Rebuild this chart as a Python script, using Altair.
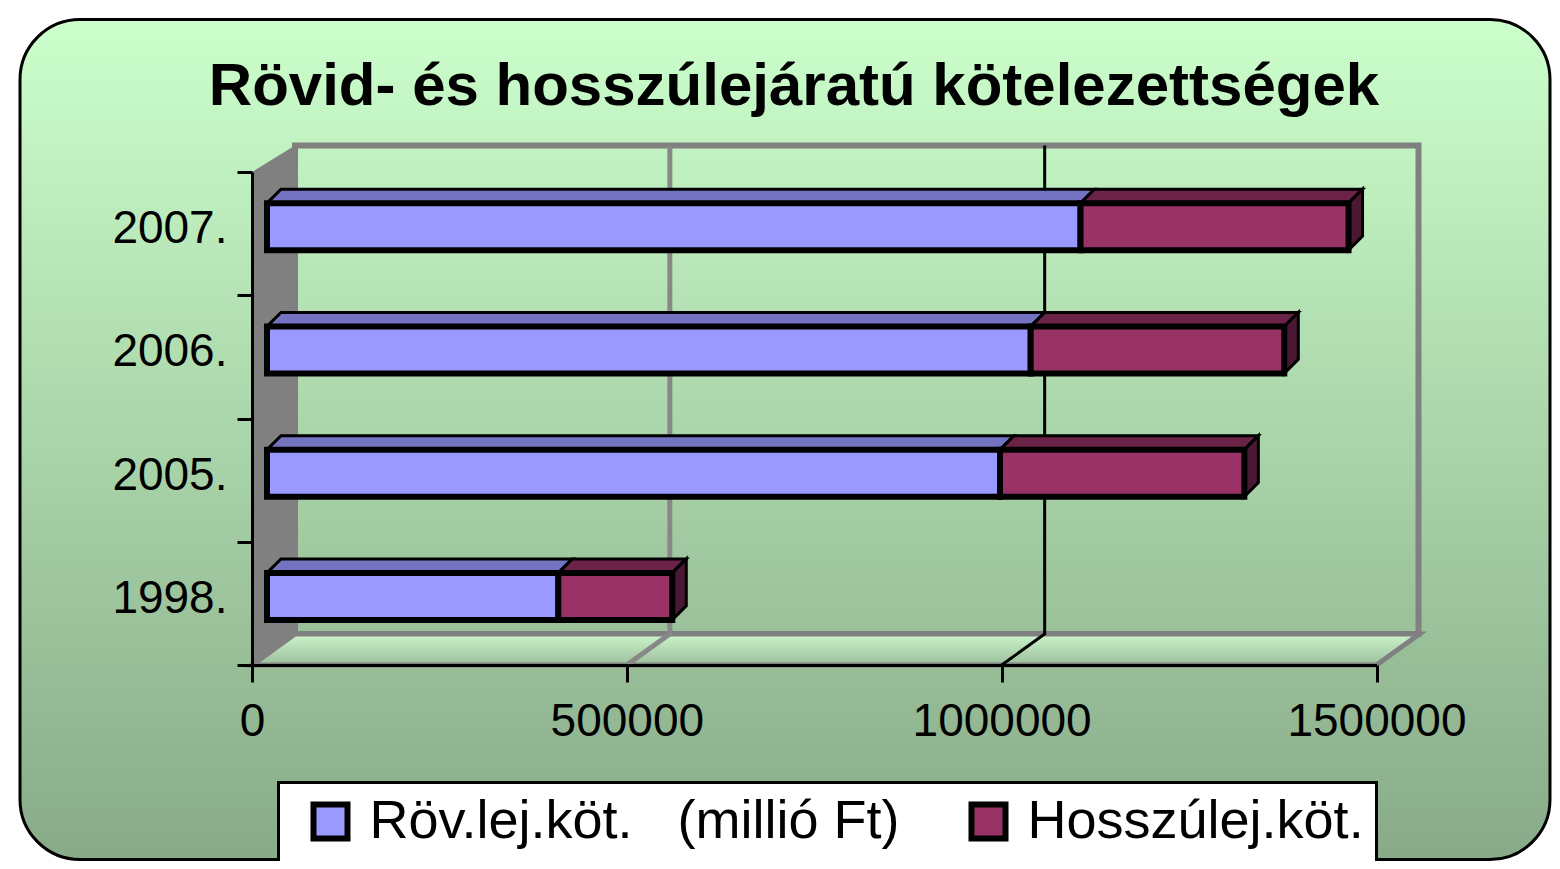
import altair as alt
import pandas as pd

# ---------------- data ----------------
years = ['1998.', '2005.', '2006.', '2007.']
short_term = [388600, 977800, 1018700, 1085200]
long_term = [152000, 325900, 338300, 357500]
series = ['Röv.lej.köt.\u00a0\u00a0\u00a0(millió Ft)', 'Hosszúlej.köt.']
x_ticks = [0, 500000, 1000000, 1500000]
chart_title = 'Rövid- és hosszúlejáratú kötelezettségek'

front_colors = ['#9999FF', '#993366']
top_colors = ['#7373C2', '#6B2347']
side_color = '#4A1832'

# ---------------- geometry (pixels) ----------------
W, H = 1124.5, 493
XMAX = x_ticks[-1]
NCAT = len(years)
PXX = W / XMAX          # px per value unit
BAND = H / NCAT         # px per category band
BAR_SHIFT = 15          # bars sit slightly back from the front plane
BAR_RAISE = 7
BAR_HALF = 23.5
DEPTH = 14              # 3D depth of the bars
WALL_DX, WALL_DYB, WALL_DYT = 43, 31, 26.5

dx = DEPTH / PXX
dy = DEPTH / BAND
wdx = WALL_DX / PXX
wdyb = WALL_DYB / BAND
wdyt = WALL_DYT / BAND

front_rows, top_rows, side_rows = [], [], []
for i, yr in enumerate(years):
    c = i + 0.5 + BAR_RAISE / BAND
    lo, hi = c - BAR_HALF / BAND, c + BAR_HALF / BAND
    segs = [(series[0], 0, short_term[i]),
            (series[1], short_term[i], short_term[i] + long_term[i])]
    for k, (s, a, b) in enumerate(segs):
        front_rows.append(dict(year=yr, series=s, x0=a, x1=b, lo=lo, hi=hi))
        fid = f'{yr}-{k}'
        pts = [(a, hi, hi), (a + dx, hi + dy, hi), (b, hi + dy, hi), (b + dx, hi + dy, hi + dy)]
        for xx, t, bt in pts:
            top_rows.append(dict(face=fid, k=k, x=xx, top=t, bot=bt))
        if k == len(segs) - 1:
            side_rows.append(dict(face=yr, x=b, top=hi, bot=lo))
            side_rows.append(dict(face=yr, x=b + dx, top=hi + dy, bot=lo + dy))

front_df = pd.DataFrame(front_rows)
top_df = pd.DataFrame(top_rows)
side_df = pd.DataFrame(side_rows)

wall_df = pd.DataFrame({'x': [0, wdx], 'top': [NCAT, NCAT + wdyt], 'bot': [0, wdyb]})
floor_df = pd.DataFrame({'x': [0, wdx, XMAX, XMAX + wdx],
                         'top': [0, wdyb, wdyb, wdyb],
                         'bot': [0, 0, 0, wdyb]})
back_df = pd.DataFrame({'x0': [0], 'x1': [XMAX], 'y0': [0], 'y1': [NCAT]})
grid_rows = []
for v in x_ticks[1:-1]:
    for p, (xx, yy) in enumerate([(v, 0), (v + wdx, wdyb), (v + wdx, NCAT + wdyt)]):
        grid_rows.append(dict(v=v, pt=p, x=xx, y=yy))
grid_df = pd.DataFrame(grid_rows)
one = pd.DataFrame({'a': [0]})

FONT = 'Liberation Sans'
xs = alt.Scale(domain=[0, XMAX], nice=False, zero=False)
ys = alt.Scale(domain=[0, NCAT], nice=False, zero=False)

cat_arr = '[' + ','.join(f"'{y}'" for y in years) + ']'
y_axis = alt.Axis(
    values=[k / 2 for k in range(2 * NCAT + 1)],
    labelExpr=f"datum.value % 1 == 0 ? '' : {cat_arr}[floor(datum.value)]",
    title=None, grid=False, domainColor='black', domainWidth=3,
    tickColor='black', tickWidth=3, tickSize=15,
    tickOpacity={'condition': {'test': 'datum.value % 1 == 0', 'value': 1}, 'value': 0},
    labelFontSize=46, labelFont=FONT, labelColor='black', labelPadding=10,
    labelOffset=-5, labelOverlap=False, labelFlush=False, zindex=1)
x_axis = alt.Axis(
    values=x_ticks, format='d', title=None, grid=False,
    domainColor='black', domainWidth=3, tickColor='black', tickWidth=3, tickSize=17,
    labelFontSize=46, labelFont=FONT, labelColor='black', labelPadding=17,
    labelFlush=False, labelOverlap=False, zindex=1)


def X(f):
    return alt.X(f, scale=xs, axis=x_axis)


def Y(f):
    return alt.Y(f, scale=ys, axis=y_axis, stack=None)


# ---------------- layers ----------------
bg_grad = alt.LinearGradient(
    gradient='linear',
    stops=[alt.GradientStop(color='#CCFFCC', offset=0),
           alt.GradientStop(color='#88AA88', offset=1)],
    x1=0, x2=0, y1=0, y2=1)
bg = alt.Chart(one).mark_rect(fill=bg_grad, stroke='black', strokeWidth=3, cornerRadius=60).encode(
    x=alt.value(-232), x2=alt.value(1298), y=alt.value(-152.5), y2=alt.value(687.5))

title_layer = alt.Chart(one).mark_text(
    text=chart_title, font=FONT, fontSize=60, fontWeight='bold', color='black',
    align='center', baseline='alphabetic').encode(x=alt.value(542), y=alt.value(-67))

back_wall = alt.Chart(back_df).mark_rect(
    fill='transparent', stroke='#808080', strokeWidth=6,
    xOffset=WALL_DX, x2Offset=WALL_DX - 1, yOffset=-WALL_DYB, y2Offset=-WALL_DYT).encode(
    x=X('x0:Q'), x2='x1:Q', y=Y('y0:Q'), y2='y1:Q')

left_wall = alt.Chart(wall_df).mark_area(orient='vertical', fill='#808080').encode(
    x=X('x:Q'), y=Y('top:Q'), y2='bot:Q')

floor_grad = alt.LinearGradient(
    gradient='linear',
    stops=[alt.GradientStop(color='#CCF6CC', offset=0),
           alt.GradientStop(color='#9CBE9C', offset=1)],
    x1=0, x2=0, y1=0, y2=1)
floor = alt.Chart(floor_df).mark_area(orient='vertical', fill=floor_grad, stroke='#808080',
                                      strokeWidth=5).encode(
    x=X('x:Q'), y=Y('top:Q'), y2='bot:Q')

grid = alt.Chart(grid_df).mark_line().encode(
    x=X('x:Q'), y=Y('y:Q'),
    detail='v:N', order='pt:Q',
    color=alt.condition(alt.datum.v == x_ticks[1], alt.value('#888888'), alt.value('black')),
    strokeWidth=alt.condition(alt.datum.v == x_ticks[1], alt.value(5), alt.value(3)))

top_layers = [
    alt.Chart(top_df).transform_filter(alt.datum.k == k).mark_area(
        orient='vertical', fill=top_colors[k], stroke='black', strokeWidth=3,
        xOffset=BAR_SHIFT).encode(
        x=X('x:Q'), y=Y('top:Q'), y2='bot:Q', detail='face:N')
    for k in range(len(series))
]

side = alt.Chart(side_df).mark_area(orient='vertical', fill=side_color, stroke='black',
                                    strokeWidth=3, xOffset=BAR_SHIFT).encode(
    x=X('x:Q'), y=Y('top:Q'), y2='bot:Q', detail='face:N')

legend = alt.Legend(
    title=None, orient='none', legendX=26.5, legendY=610.5, direction='horizontal',
    fillColor='white', strokeColor='black', padding=12,
    symbolType='square', symbolSize=1156, symbolStrokeWidth=6, symbolStrokeColor='black',
    symbolOffset=13, labelFontSize=54, labelFont=FONT, labelColor='black',
    labelOffset=12, columnPadding=48, labelLimit=0, zindex=1)

front = alt.Chart(front_df).mark_bar(stroke='black', strokeWidth=6,
                                     xOffset=BAR_SHIFT, x2Offset=BAR_SHIFT).encode(
    x=X('x0:Q'), x2='x1:Q', y=Y('lo:Q'), y2='hi:Q',
    color=alt.Color('series:N', scale=alt.Scale(domain=series, range=front_colors), legend=legend))

chart = alt.layer(bg, title_layer, back_wall, left_wall, floor, grid, *top_layers, side, front).properties(
    width=W, height=H,
    padding={'left': 244, 'top': 164, 'right': 175.5, 'bottom': 196},
    autosize=alt.AutoSizeParams(type='none'),
).configure(background='white').configure_view(stroke=None).configure_legend(strokeWidth=3)

chart.save('out.html', embed_options={'renderer': 'svg', 'actions': False})
